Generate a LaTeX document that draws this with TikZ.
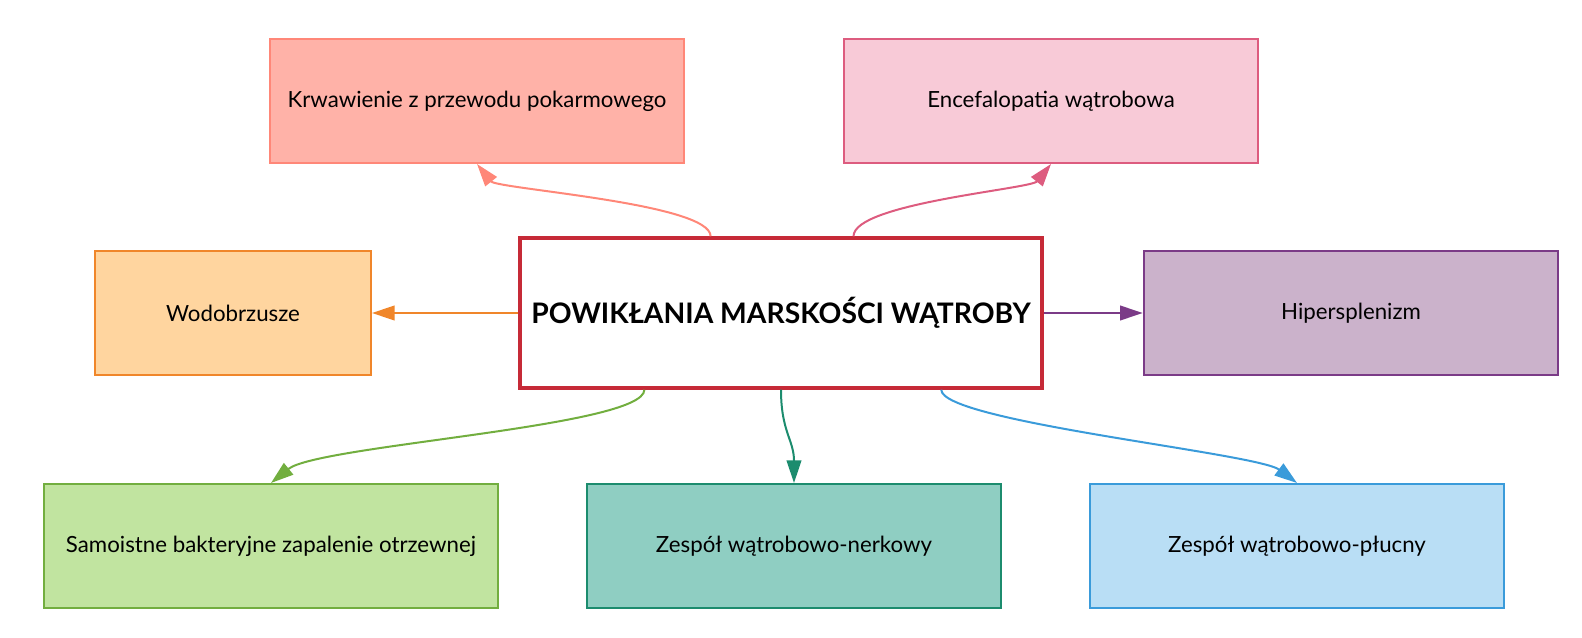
\documentclass[tikz,border=0pt]{standalone}
\usepackage{fontspec}
\setmainfont{Lato}
\usetikzlibrary{arrows.meta}
\usetikzlibrary{calc}

\definecolor{krwFill}{HTML}{FFB2A8}
\definecolor{krwLine}{HTML}{FF8778}
\definecolor{encFill}{HTML}{F8CAD7}
\definecolor{encLine}{HTML}{DD5C7F}
\definecolor{wodFill}{HTML}{FFD59F}
\definecolor{wodLine}{HTML}{F0862A}
\definecolor{hipFill}{HTML}{CBB2CB}
\definecolor{hipLine}{HTML}{7B3B87}
\definecolor{sbpFill}{HTML}{C1E4A0}
\definecolor{sbpLine}{HTML}{72AE3F}
\definecolor{hrsFill}{HTML}{8FCEC2}
\definecolor{hrsLine}{HTML}{1C8C6E}
\definecolor{hpsFill}{HTML}{B9DEF5}
\definecolor{hpsLine}{HTML}{3A9BDA}
\definecolor{centLine}{HTML}{C62A37}

\begin{document}
\begin{tikzpicture}[x=0.75pt, y=-0.75pt]
	\tikzstyle{box}=[rectangle, draw, line width=1.5pt, minimum height=93pt,
	                 inner sep=2pt, font=\fontsize{16.7}{19}\selectfont];
	\tikzstyle{link}=[line width=1.5pt, -{Triangle[length=17pt, width=11pt]}];
	\useasboundingbox (0,0) rectangle (1582,638);
	% central node
	\node[box, draw=centLine, line width=2.6pt, fill=white, minimum width=391.5pt,
	      minimum height=112.5pt, font=\fontsize{21.2}{25}\selectfont\bfseries]
	      (cent) at (781,313) {POWIKŁANIA MARSKOŚCI WĄTROBY};
	% complications
	\foreach \n/\x/\y/\w/\txt in {
	    krw/477/101/310.5pt/Krwawienie z przewodu pokarmowego,
	    enc/1051/101/311pt/Encefalopatia wątrobowa,
	    wod/233/313/207pt/Wodobrzusze,
	    hip/1351/313/311pt/Hipersplenizm,
	    sbp/271/546/340pt/Samoistne bakteryjne zapalenie otrzewnej,
	    hrs/794/546/311pt/Zespół wątrobowo-nerkowy,
	    hps/1297/546/310pt/Zespół wątrobowo-płucny}
	{\node[box, draw=\n Line, fill=\n Fill, minimum width=\w] (\n) at (\x,\y) {\txt};}
	\draw[link, krwLine] ($(cent.north west)!.366!(cent.north east)$)
	    .. controls +(0,-33) and +(20,25) .. (krw.south);
	\draw[link, encLine] ($(cent.north west)!.638!(cent.north east)$)
	    .. controls +(0,-33) and +(-20,25) .. (enc.south);
	\draw[link, wodLine] (cent.west) -- (wod.east);
	\draw[link, hipLine] (cent.east) -- (hip.west);
	\draw[link, sbpLine] ($(cent.south west)!.24!(cent.south east)$)
	    .. controls +(0,37) and +(47,-38) .. (sbp.north);
	\draw[link, hrsLine] (cent.south)
	    .. controls +(0,42) and +(0,-43) .. (hrs.north);
	\draw[link, hpsLine] ($(cent.south west)!.805!(cent.south east)$)
	    .. controls +(0,32) and +(-40,-30) .. (hps.north);
\end{tikzpicture}
\end{document}
